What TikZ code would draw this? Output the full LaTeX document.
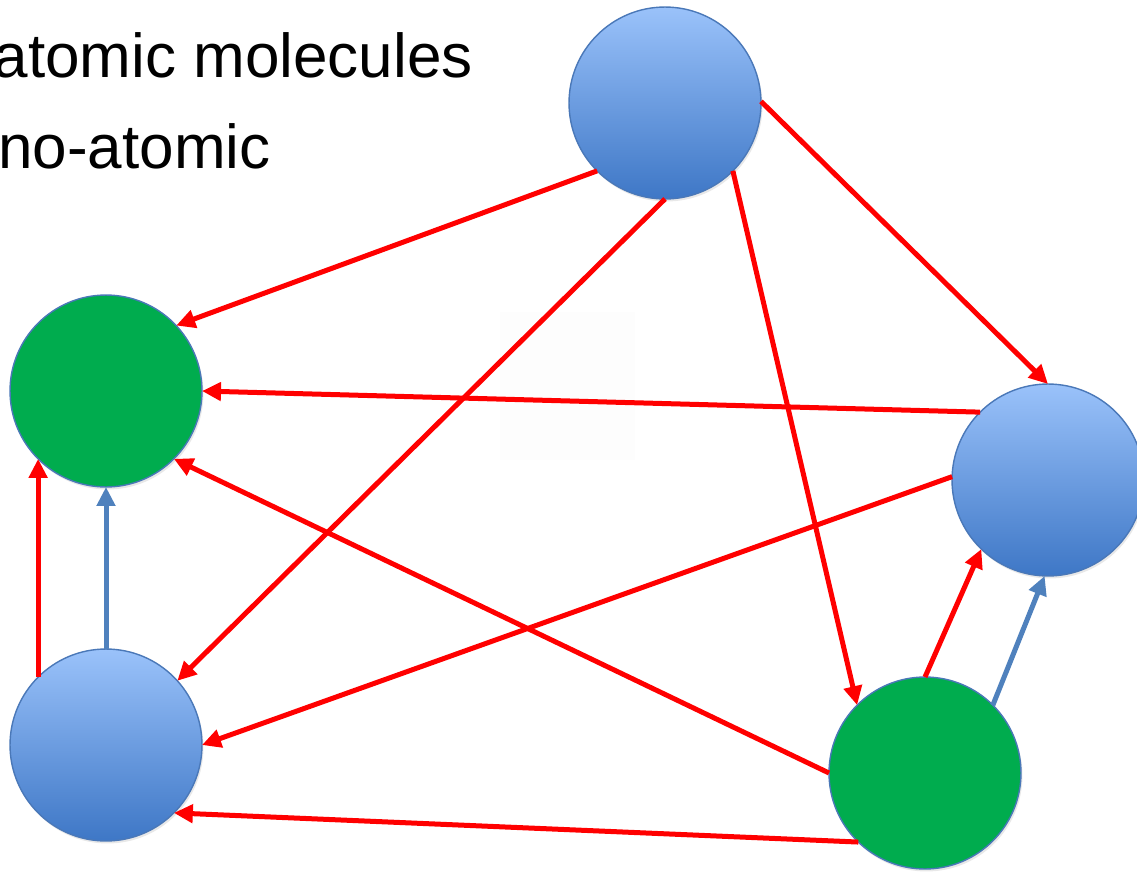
\documentclass[tikz,border=0pt]{standalone}
\usepackage{fontspec}
\setmainfont{Liberation Sans}
\usetikzlibrary{arrows.meta,shadows}
\definecolor{outl}{HTML}{4A78B8}
\definecolor{btop}{HTML}{9AC2FA}
\definecolor{bbot}{HTML}{3E77C6}
\definecolor{grn}{HTML}{00AC4E}
\definecolor{redc}{HTML}{FF0000}
\definecolor{bluearr}{HTML}{4F81BD}
\tikzset{
  atom/.style={circle, minimum size=3.84cm, inner sep=0pt, outer sep=0pt, draw=outl, line width=0.8pt,
    drop shadow={opacity=0.18, shadow xshift=0.03cm, shadow yshift=-0.05cm}},
  blueatom/.style={atom, top color=btop, bottom color=bbot},
  greenatom/.style={atom, fill=grn},
  redarrow/.style={draw=redc, line width=0.1cm, -{Triangle[length=0.38cm,width=0.36cm]}},
  bluearrow/.style={draw=bluearr, line width=0.1cm, -{Triangle[length=0.38cm,width=0.36cm]}},
  label/.style={font=\fontsize{35.3pt}{40pt}\selectfont, inner sep=0pt, anchor=base east}
}
\begin{document}
\begin{tikzpicture}[x=0.02cm, y=-0.02cm]
\useasboundingbox (0,0) rectangle (1137,873);
\fill[white] (0,0) rectangle (1137,873);
\fill[black!0.8] (500,312) rectangle (635,460);
\node[label] (t1) at (473,77) {atomic molecules};
\node[label] (t2) at (271,168) {no-atomic};
\node[blueatom] (top) at (665,103) {};
\node[greenatom] (lg) at (106,391) {};
\node[blueatom] (rb) at (1048,480) {};
\node[blueatom] (bl) at (106,745) {};
\node[greenatom] (bg) at (925,773) {};
\draw[redarrow] (top.225.8) -- (lg.43.8);
\draw[redarrow] (top.270) -- (bl.42.9);
\draw[redarrow] (top.315.4) -- (bg.135);
\draw[redarrow] (top.1.8) -- (rb.90);
\draw[redarrow] (rb.135.4) -- (lg.0);
\draw[redarrow] (rb.178.8) -- (bl.0);
\draw[redarrow] (bg.180) -- (lg.315.4);
\draw[redarrow] (bg.226.3) -- (bl.315.8);
\draw[redarrow] (bg.90) -- (rb.226);
\draw[bluearrow] (bg.45) -- (rb.268.8);
\draw[redarrow] (bl.135) -- (lg.225.4);
\draw[bluearrow] (bl.90) -- (lg.270);
\end{tikzpicture}
\end{document}
